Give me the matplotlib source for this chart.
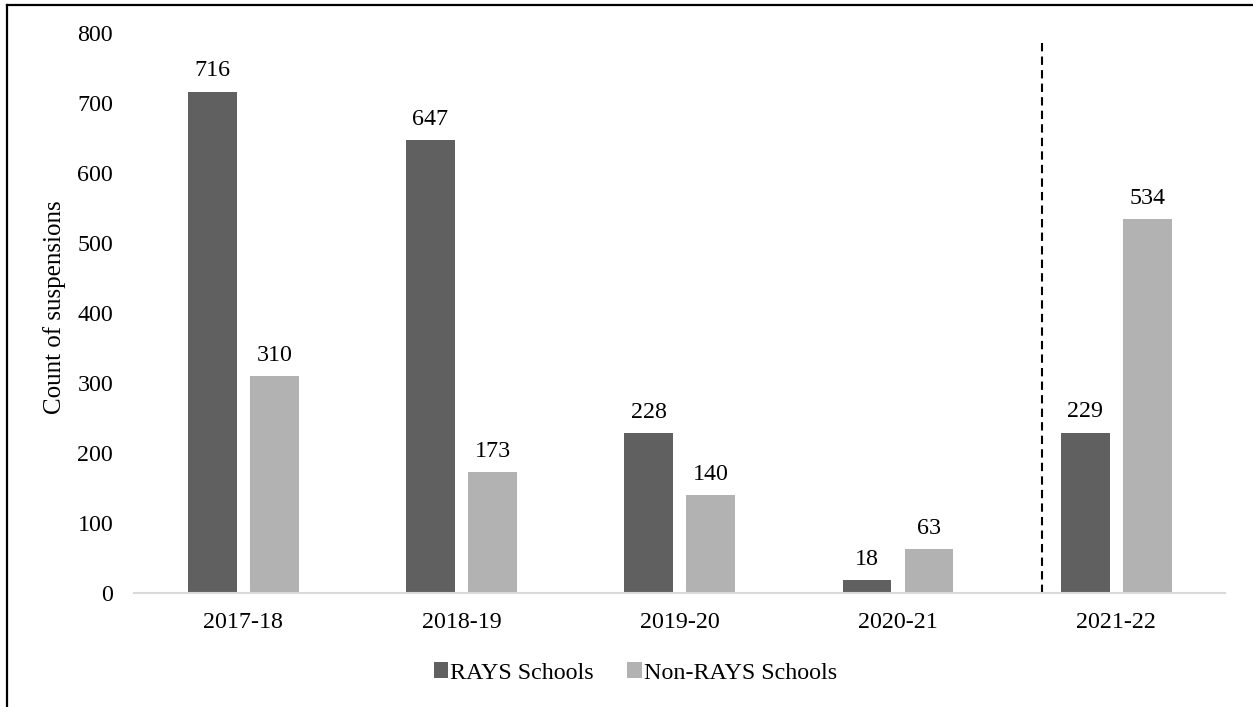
import matplotlib
matplotlib.use("Agg")
import matplotlib.pyplot as plt
import numpy as np
from matplotlib.lines import Line2D

years = ["2017-18", "2018-19", "2019-20", "2020-21", "2021-22"]
rays = [716, 647, 228, 18, 229]
non_rays = [310, 173, 140, 63, 534]
series_names = ["RAYS Schools", "Non-RAYS Schools"]
colors = ["#606060", "#b2b2b2"]

plt.rcParams['font.family'] = ['Liberation Serif', 'DejaVu Serif']

fig = plt.figure(figsize=(12.53, 7.07), dpi=100)
ax = fig.add_axes([0.107, 0.1612, 0.871, 0.7921])

x = np.arange(len(years))
w = 0.224
off = 0.142
b1 = ax.bar(x - off, rays, w, color=colors[0], label=series_names[0])
b2 = ax.bar(x + off, non_rays, w, color=colors[1], label=series_names[1])

fs = 17.3
for bars, vals in ((b1, rays), (b2, non_rays)):
    for rect, v in zip(bars, vals):
        ax.annotate(str(v), (rect.get_x() + rect.get_width() / 2, v),
                    xytext=(0, 7.5), textcoords="offset points",
                    ha="center", va="bottom", fontsize=fs)

ax.set_xlim(-0.5, len(years) - 0.5)
ax.set_ylim(0, 800)
ax.set_yticks(np.arange(0, 801, 100))
ax.set_xticks(x)
ax.set_xticklabels(years)
ax.tick_params(axis="both", length=0, labelsize=fs)
ax.tick_params(axis="y", pad=15)
ax.tick_params(axis="x", pad=13.5)
for s in ("top", "right", "left"):
    ax.spines[s].set_visible(False)
ax.spines["bottom"].set_color("#d9d9d9")
ax.spines["bottom"].set_linewidth(1.5)

ax.axvline(3.66, ymin=0, ymax=0.988, color="black", linestyle=(0, (4, 2.5)), linewidth=1.5)

ax.set_ylabel("Count of suspensions", fontsize=18)
ax.yaxis.set_label_coords(-0.062, 0.51)

leg = fig.legend(handles=[b1, b2], labels=series_names, loc="center",
                 bbox_to_anchor=(0.507, 1 - 673 / 707), ncol=2, frameon=False,
                 fontsize=fs, handlelength=0.6, handleheight=0.6,
                 handletextpad=0.08, columnspacing=1.4)

fig.add_artist(Line2D([0.0052, 0.0052], [0, 0.993], transform=fig.transFigure,
                      color="black", linewidth=1.6))
fig.add_artist(Line2D([0.0052, 1.0], [0.993, 0.993], transform=fig.transFigure,
                      color="black", linewidth=1.6))

fig.savefig("out.png", dpi=100)
